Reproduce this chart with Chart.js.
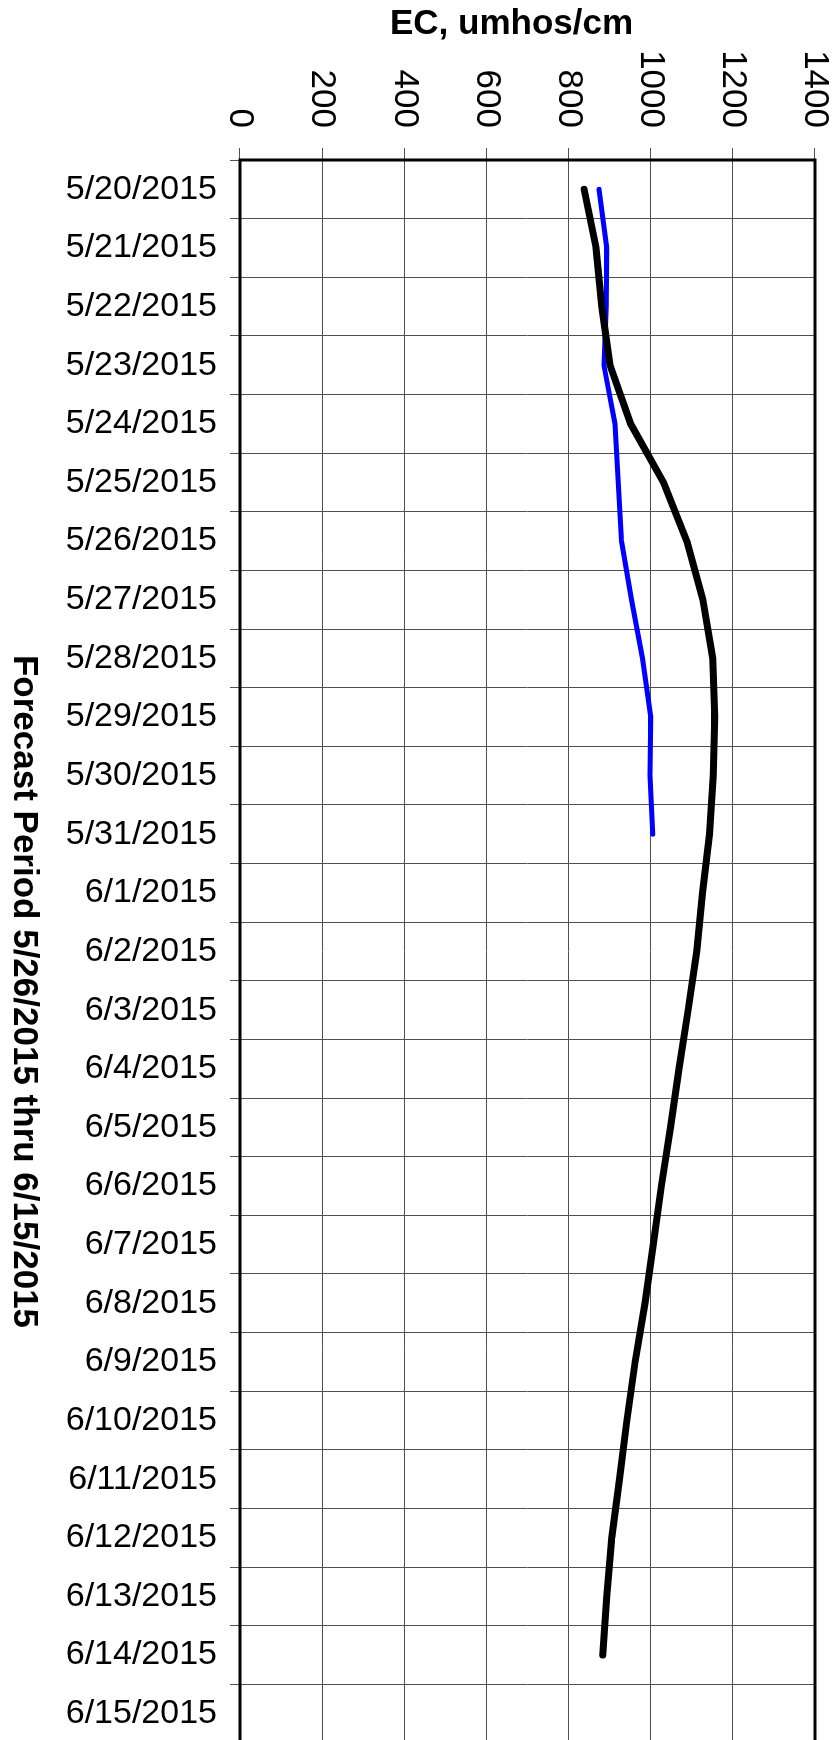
<!DOCTYPE html>
<html>
<head>
<meta charset="utf-8">
<title>EC forecast</title>
<script src="https://cdn.jsdelivr.net/npm/chart.js@4.4.1/dist/chart.umd.min.js"></script>
<style>
  html, body { margin: 0; padding: 0; background: #fff; }
  #frame { position: relative; width: 838px; height: 1740px; overflow: hidden; background: #fff; }
  /* chart is drawn landscape and turned a quarter clockwise, like the original sheet */
  #chart { position: absolute; left: 0; top: 0; transform-origin: 0 0; transform: translateX(838px) rotate(90deg); }
</style>
</head>
<body>
<div id="frame">
  <canvas id="chart" width="1746" height="838"></canvas>
</div>
<script>
const dates = [
  '5/20/2015', '5/21/2015', '5/22/2015', '5/23/2015', '5/24/2015', '5/25/2015',
  '5/26/2015', '5/27/2015', '5/28/2015', '5/29/2015', '5/30/2015', '5/31/2015',
  '6/1/2015', '6/2/2015', '6/3/2015', '6/4/2015', '6/5/2015', '6/6/2015',
  '6/7/2015', '6/8/2015', '6/9/2015', '6/10/2015', '6/11/2015', '6/12/2015',
  '6/13/2015', '6/14/2015', '6/15/2015',
];
const forecastEC = [
  838, 867, 881, 901, 951, 1031, 1088, 1127, 1151, 1156, 1152, 1143,
  1126, 1112, 1091, 1069, 1048, 1026, 1006, 986, 962, 942, 924, 905,
  893, 883, null,
];
const observedEC = [874, 893, 892, 886, 913, 921, 929, 953, 980, 1000, 998, 1005];
const ecTicks = [0, 200, 400, 600, 800, 1000, 1200, 1400];

const valueTitle = 'EC, umhos/cm';
const periodTitle = 'Forecast Period 5/26/2015 thru 6/15/2015';

const FONT = "'Liberation Sans', Arial, sans-serif";
const GRID = '#505050';

// box round the plot plus the two axis titles
const framePlugin = {
  id: 'frame',
  beforeDatasetsDraw(chart) {
    const { ctx, chartArea: a } = chart;
    ctx.save();
    ctx.strokeStyle = '#000';
    ctx.lineWidth = 3;
    ctx.strokeRect(a.left, a.top, a.right - a.left, a.bottom - a.top);
    ctx.restore();
  },
  afterDraw(chart) {
    const { ctx, chartArea: a } = chart;
    ctx.save();
    ctx.fillStyle = '#000';
    ctx.font = `bold 35px ${FONT}`;
    ctx.textAlign = 'center';
    ctx.textBaseline = 'middle';
    // value axis title, sits beside the value ticks
    ctx.translate(24, (a.top + a.bottom) / 2 + 16);
    ctx.rotate(-Math.PI / 2);
    ctx.fillText(valueTitle, 0, 0);
    ctx.restore();

    ctx.save();
    ctx.fillStyle = '#000';
    ctx.font = `bold 35px ${FONT}`;
    ctx.textAlign = 'center';
    ctx.textBaseline = 'middle';
    ctx.fillText(periodTitle, (a.left + a.right) / 2 + 40, chart.height - 24);
    ctx.restore();
  },
};

new Chart(document.getElementById('chart'), {
  type: 'line',
  data: {
    labels: dates,
    datasets: [
      {
        label: 'Forecast',
        data: forecastEC,
        borderColor: '#000',
        borderWidth: 7,
        borderCapStyle: 'round',
        borderJoinStyle: 'round',
        pointRadius: 0,
        tension: 0,
        spanGaps: false,
      },
      {
        label: 'Observed',
        data: observedEC,
        borderColor: '#0000ff',
        borderWidth: 5,
        borderCapStyle: 'round',
        borderJoinStyle: 'round',
        pointRadius: 0,
        tension: 0,
      },
    ],
  },
  options: {
    responsive: false,
    animation: false,
    events: [],
    layout: { autoPadding: false, padding: { left: 0, right: 3, top: 23, bottom: 0 } },
    plugins: { legend: { display: false }, tooltip: { enabled: false } },
    scales: {
      x: {
        type: 'category',
        offset: true,
        grid: { offset: true, color: GRID, lineWidth: 1, tickLength: 10 },
        border: { display: false },
        ticks: {
          autoSkip: false,
          minRotation: 90,
          maxRotation: 90,
          padding: 13,
          color: '#000',
          font: { family: FONT, size: 34 },
        },
        afterFit: (scale) => {
          scale.height = 240;
          scale.paddingLeft = 0;
          scale.paddingRight = 0;
        },
      },
      y: {
        min: ecTicks[0],
        max: ecTicks[ecTicks.length - 1],
        afterBuildTicks: (scale) => { scale.ticks = ecTicks.map(value => ({ value })); },
        grid: { color: GRID, lineWidth: 1, tickLength: 12 },
        border: { display: false },
        ticks: {
          padding: 20,
          color: '#000',
          font: { family: FONT, size: 35 },
          callback: (value) => String(value),
        },
        afterFit: (scale) => {
          scale.width = 160;
          scale.paddingTop = 0;
          scale.paddingBottom = 0;
        },
      },
    },
  },
  plugins: [framePlugin],
});
</script>
</body>
</html>
